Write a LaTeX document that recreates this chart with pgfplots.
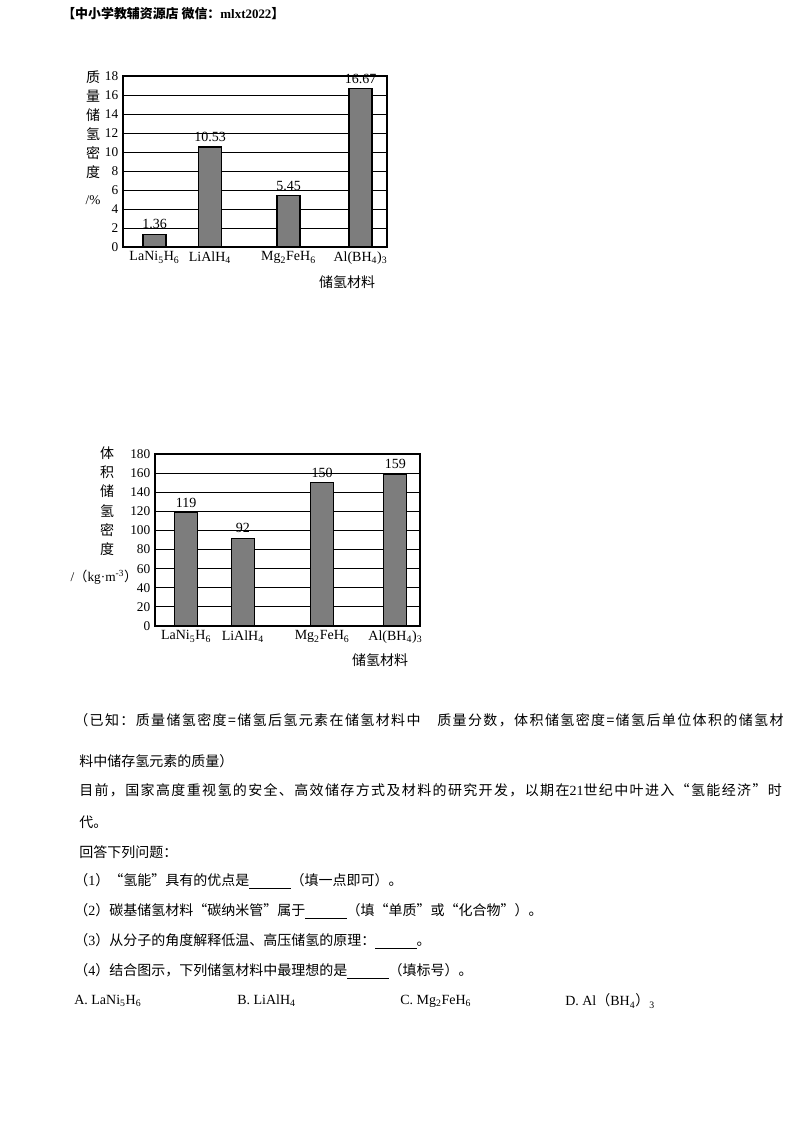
\documentclass[border=0pt]{standalone}
\usepackage{pgfplots}
\pgfplotsset{compat=1.18}
\usepackage{fontspec}
\setmainfont{Liberation Serif}
\newfontfamily\cjk{Noto Sans CJK SC}

% CJK characters and full-width punctuation get class 1, with stretchable
% glue between them, so that justified lines can be spread to full width
\newcount\cc
\cc="4E00 \loop \XeTeXcharclass\cc=1 \advance\cc by 1 \ifnum\cc<"A000 \repeat
\cc="3000 \loop \XeTeXcharclass\cc=1 \advance\cc by 1 \ifnum\cc<"3040 \repeat
\cc="FF01 \loop \XeTeXcharclass\cc=1 \advance\cc by 1 \ifnum\cc<"FF5F \repeat
\XeTeXcharclass"201C=1 \XeTeXcharclass"201D=1
\XeTeXinterchartokenstate=1
\newcommand\cg{\hskip 0pt plus 1fil\relax}
\XeTeXinterchartoks 0 1 = {\cg}
\XeTeXinterchartoks 1 0 = {\cg}
\XeTeXinterchartoks 1 1 = {\cg}

\definecolor{barg}{RGB}{125,125,125}
\newcommand\blank{\rule[-2pt]{31pt}{0.5pt}}
\newcommand\txt{\cjk\fontsize{10.5}{12}\selectfont}
\newcommand\lab{\cjk\fontsize{10.5}{12}\selectfont}

\pgfplotsset{
  barchart/.style={
    scale only axis,
    xmin=0, xmax=264, ymin=0,
    ybar, bar width=23,
    ymajorgrids,
    grid style={black, line width=0.6pt},
    axis line style={black, line width=0.8pt},
    major tick length=0pt,
    /pgf/number format/assume math mode=true,
    yticklabel style={font=\fontsize{10}{10}\selectfont},
    xticklabel style={font=\fontsize{10.5}{10}\selectfont},
    point meta=explicit symbolic,
    nodes near coords,
    nodes near coords style={font=\fontsize{10.5}{10}\selectfont, black},
    xticklabels={LaNi\textsubscript{5}H\textsubscript{6}, LiAlH\textsubscript{4},
      Mg\textsubscript{2}FeH\textsubscript{6}, Al(BH\textsubscript{4})\textsubscript{3}},
  },
  barplot/.style={fill=barg, draw=black, line width=0.8pt},
}

\begin{document}
\begin{tikzpicture}
\fill[white] (0pt,0pt) rectangle (600pt,-849pt);

% mass storage density
\begin{axis}[barchart,
  at={(92.25pt,-185.25pt)}, anchor=south west,
  width=198pt, height=128.25pt,
  ymax=18, ytick={0,2,...,18},
  xtick={31.5,87,165.5,237.5},
]
\addplot[barplot] coordinates {
  (31.5,1.36) [1.36]
  (87,10.53) [10.53]
  (165.5,5.45) [5.45]
  (237.5,16.67) [16.67]
};
\end{axis}

% volume storage density
\begin{axis}[barchart,
  at={(116.25pt,-469.5pt)}, anchor=south west,
  width=198.75pt, height=129pt,
  ymax=180, ytick={0,20,...,180},
  xtick={31,87.5,166.5,239.5},
]
\addplot[barplot] coordinates {
  (31,119) [119]
  (87.5,92) [92]
  (166.5,150) [150]
  (239.5,159) [159]
};
\end{axis}

\begin{scope}[x=0.75pt, y=-0.75pt]
\node[anchor=west, inner sep=0] at (62,14)
  {\cjk\bfseries\fontsize{9.7}{11}\selectfont 【中小学教辅资源店 微信：{\rmfamily mlxt2022}】};

% y labels, one character under another
\foreach \c [count=\i from 0] in {质,量,储,氢,密,度}
  \node[inner sep=0, font=\lab] at (93,{77+19*\i}) {\c};
\node[inner sep=0, font=\fontsize{10}{12}\selectfont] at (93,200) {/\%};
\node[inner sep=0, font=\lab] at (347,282) {储氢材料};

\foreach \c [count=\i from 0] in {体,积,储,氢,密,度}
  \node[inner sep=0, font=\lab] at (107,{453+19.2*\i}) {\c};
\node[inner sep=0, font=\fontsize{10}{12}\selectfont] at (104,577)
  {/{\cjk（}kg·m\textsuperscript{-3}{\cjk）}};
\node[inner sep=0, font=\lab] at (380,660) {储氢材料};

% text below the charts
\node[anchor=west, inner sep=0, font=\txt] at (74,720)
  {\makebox[532pt][s]{（已知：质量储氢密度=储氢后氢元素在储氢材料中　质量分数，体积储氢密度=储氢后单位体积的储氢材}};
\node[anchor=west, inner sep=0, font=\txt] at (79,761) {料中储存氢元素的质量）};
\node[anchor=west, inner sep=0, font=\txt] at (79,790)
  {\makebox[527pt][s]{目前，国家高度重视氢的安全、高效储存方式及材料的研究开发，以期在{\rmfamily 21}世纪中叶进入“氢能经济”时}};
\node[anchor=west, inner sep=0, font=\txt] at (79,822) {代。};
\node[anchor=west, inner sep=0, font=\txt] at (79,852) {回答下列问题：};
\node[anchor=west, inner sep=0, font=\txt] at (74,881) {（{\rmfamily 1}）“氢能”具有的优点是\blank（填一点即可）。};
\node[anchor=west, inner sep=0, font=\txt] at (74,911) {（{\rmfamily 2}）碳基储氢材料“碳纳米管”属于\blank（填“单质”或“化合物”）。};
\node[anchor=west, inner sep=0, font=\txt] at (74,941) {（{\rmfamily 3}）从分子的角度解释低温、高压储氢的原理：\blank。};
\node[anchor=west, inner sep=0, font=\txt] at (74,971) {（{\rmfamily 4}）结合图示，下列储氢材料中最理想的是\blank（填标号）。};
\node[anchor=west, inner sep=0, font=\fontsize{10.5}{12}\selectfont] at (74,1001) {A.\ LaNi\textsubscript{5}H\textsubscript{6}};
\node[anchor=west, inner sep=0, font=\fontsize{10.5}{12}\selectfont] at (237,1001) {B.\ LiAlH\textsubscript{4}};
\node[anchor=west, inner sep=0, font=\fontsize{10.5}{12}\selectfont] at (400,1001) {C.\ Mg\textsubscript{2}FeH\textsubscript{6}};
\node[anchor=west, inner sep=0, font=\fontsize{10.5}{12}\selectfont] at (565,1001) {D.\ Al{\cjk（}BH\textsubscript{4}{\cjk）}\textsubscript{3}};
\end{scope}
\end{tikzpicture}
\end{document}
